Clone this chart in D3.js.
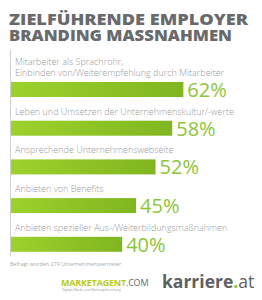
<!DOCTYPE html>
<html><head><meta charset="utf-8">
<script src="https://cdn.jsdelivr.net/npm/d3@7"></script>
<style>html,body{margin:0;padding:0;background:#fff;}svg{display:block;}</style>
</head><body>
<script>
const titleLines = ["ZIELFÜHRENDE EMPLOYER", "BRANDING MASSNAHMEN"];
const categories = [
  ["Mitarbeiter als Sprachrohr,", "Einbinden von/Weiterempfehlung durch Mitarbeiter"],
  ["Leben und Umsetzen der Unternehmenskultur/-werte"],
  ["Ansprechende Unternehmenswebseite"],
  ["Anbieten von Benefits"],
  ["Anbieten spezieller Aus-/Weiterbildungsmaßnahmen"]
];
const values = [62, 58, 52, 45, 40];
const footnote = "Befragt wurden 279 Unternehmensvertreter";

const W = 262, H = 300;
const svg = d3.select("body").append("svg").attr("width", W).attr("height", H);

const defs = svg.append("defs");
const grad = defs.append("linearGradient").attr("id", "g").attr("x1", "0").attr("x2", "1");
grad.append("stop").attr("offset", "0").attr("stop-color", "#9dd12c");
grad.append("stop").attr("offset", "1").attr("stop-color", "#80b620");

// title
const titleWidths = [239, 223];
svg.append("g").selectAll("text").data(titleLines).join("text")
  .attr("x", 9).attr("y", (d, i) => 25 + i * 16)
  .attr("font-family", "Open Sans").attr("font-weight", 800).attr("font-size", 16.5)
  .attr("textLength", (d, i) => titleWidths[i]).attr("lengthAdjust", "spacingAndGlyphs")
  .attr("fill", "#696a6c").text(d => d);

const x = d3.scaleLinear().domain([0, 100]).range([11, 289]);
const y = d3.scalePoint().domain(d3.range(values.length)).range([82, 82 + 4 * 38.7]);
const barH = 15;

// axis line
svg.append("line").attr("x1", 10.5).attr("x2", 10.5).attr("y1", 50).attr("y2", 256)
  .attr("stroke", "#cfcfcf").attr("stroke-width", 1);

const g = svg.append("g");
values.forEach((v, i) => {
  const t = y(i);
  g.append("rect").attr("x", x(0)).attr("y", t).attr("width", x(v) - x(0)).attr("height", barH)
    .attr("fill", "url(#g)");
  g.append("text").attr("x", x(v) + 4).attr("y", t + barH)
    .attr("font-family", "Open Sans").attr("font-size", 20).attr("fill", "#8cc43a")
    .text(v + "%");
  const lines = categories[i];
  lines.forEach((l, j) => {
    g.append("text").attr("x", 15).attr("y", t - 6 - (lines.length - 1 - j) * 11)
      .attr("font-family", "Open Sans").attr("font-weight", 300).attr("font-size", 9)
      .attr("fill", "#9a9a9a").text(l);
  });
});

svg.append("text").attr("x", 10).attr("y", 266).attr("font-family", "Open Sans")
  .attr("font-size", 5.4).attr("fill", "#aaa").text(footnote);

// logos
const m = svg.append("text").attr("x", 61).attr("y", 286).attr("font-family", "Open Sans")
  .attr("font-weight", 700).attr("font-size", 9).attr("letter-spacing", -0.2);
m.append("tspan").attr("fill", "#b8cc1a").text("MARKETAGENT");
m.append("tspan").attr("fill", "#6b6b6b").attr("font-weight", 400).text(".COM");
svg.append("text").attr("x", 62).attr("y", 290.5).attr("font-family", "Open Sans")
  .attr("font-size", 3.2).attr("fill", "#999").text("Digitale Markt- und Meinungsforschung");

const k = svg.append("text").attr("x", 162).attr("y", 288).attr("font-family", "Open Sans")
  .attr("font-size", 17.5).attr("fill", "#5f6062");
k.append("tspan").attr("font-weight", 700).text("karriere");
k.append("tspan").attr("font-weight", 700).attr("fill", "#8cc43a").text(".");
k.append("tspan").attr("font-weight", 400).text("at");
</script>
</body></html>
